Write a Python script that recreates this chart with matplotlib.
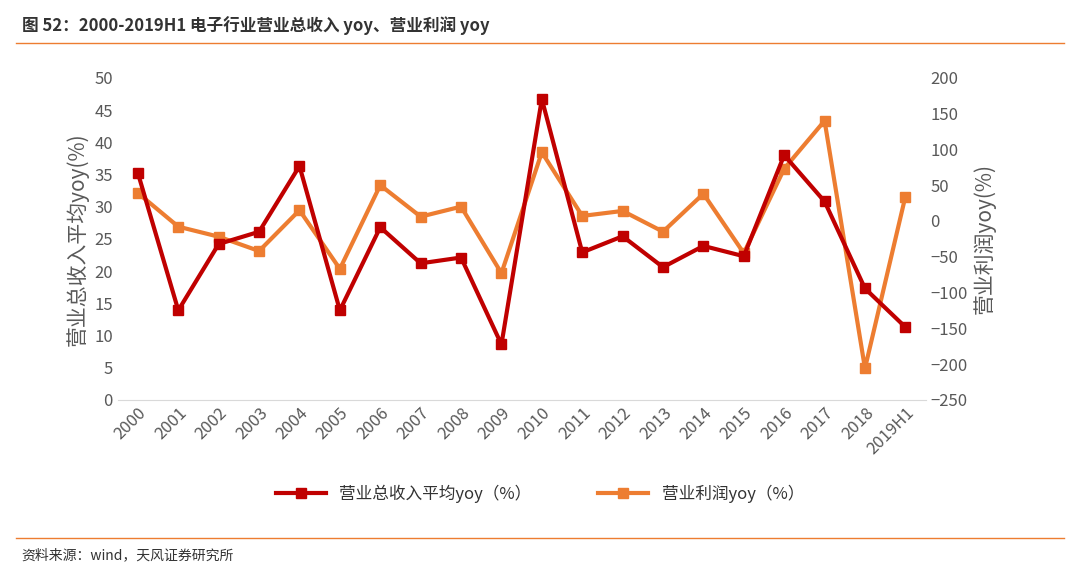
import matplotlib.pyplot as plt
from matplotlib.lines import Line2D

plt.rcParams['font.family'] = ['Noto Sans CJK SC']

years = ['2000', '2001', '2002', '2003', '2004', '2005', '2006', '2007', '2008', '2009',
         '2010', '2011', '2012', '2013', '2014', '2015', '2016', '2017', '2018', '2019H1']
revenue_yoy = [35.2, 13.9, 24.2, 26.1, 36.3, 13.9, 26.8, 21.2, 22.1, 8.6,
               46.7, 22.9, 25.4, 20.6, 23.9, 22.3, 38.0, 30.8, 17.3, 11.3]
profit_yoy = [39, -8, -22, -42, 15, -67, 50, 6, 20, -73,
              96, 7, 14, -15, 38, -45, 73, 140, -206, 34]

red = '#C00000'
orange = '#ED7D31'
grey = '#595959'

fig = plt.figure(figsize=(10.8, 5.68), dpi=100)
ax = fig.add_axes([0.109, 0.296, 0.748, 0.567])
ax2 = ax.twinx()

x = range(len(years))
ax.plot(x, revenue_yoy, color=red, lw=3, marker='s', ms=7, zorder=3)
ax2.plot(x, profit_yoy, color=orange, lw=3, marker='s', ms=7)
ax.set_zorder(ax2.get_zorder() + 1)
ax.patch.set_visible(False)

ax.set_ylim(0, 50)
ax.set_yticks(range(0, 51, 5))
ax2.set_ylim(-250, 200)
ax2.set_yticks(range(-250, 201, 50))
ax.set_xlim(-0.5, len(years) - 0.5)
ax.set_xticks(list(x))
ax.set_xticklabels(years, rotation=45, ha='right', rotation_mode='anchor')

for a in (ax, ax2):
    for s in a.spines.values():
        s.set_visible(False)
    a.tick_params(length=0, labelsize=12, colors=grey)
ax.spines['bottom'].set_visible(True)
ax.spines['bottom'].set_color('#D9D9D9')

ax.set_ylabel('营业总收入平均yoy(%)', fontsize=15, color=grey)
ax2.set_ylabel('营业利润yoy(%)', fontsize=15, color=grey)

handles = [Line2D([], [], color=red, lw=3, marker='s', ms=7),
           Line2D([], [], color=orange, lw=3, marker='s', ms=7)]
fig.legend(handles, ['营业总收入平均yoy（%）', '营业利润yoy（%）'], loc='center',
           bbox_to_anchor=(0.5, 0.13), ncol=2, frameon=False, fontsize=12,
           handlelength=3, columnspacing=4, labelcolor='#333333')

fig.text(0.02, 0.955, '图 52：2000-2019H1 电子行业营业总收入 yoy、营业利润 yoy',
         fontsize=12, weight='bold', color='#333333', va='center')
fig.add_artist(Line2D([0.015, 0.985], [0.925, 0.925], color=orange, lw=1))
fig.add_artist(Line2D([0.015, 0.985], [0.053, 0.053], color=orange, lw=1))
fig.text(0.02, 0.022, '资料来源：wind，天风证券研究所', fontsize=10, color='#333333', va='center')

fig.savefig('out.png', dpi=100)
